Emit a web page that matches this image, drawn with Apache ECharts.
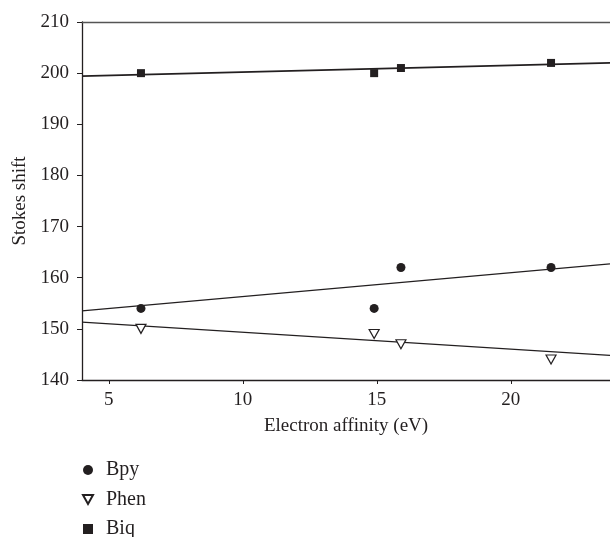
<!DOCTYPE html>
<html>
<head>
<meta charset="utf-8">
<script src="https://cdn.jsdelivr.net/npm/echarts@6/dist/echarts.min.js"></script>
<style>
  html, body { margin: 0; padding: 0; background: #fff; }
  #chart { width: 610px; height: 537px; }
</style>
</head>
<body>
<div id="chart"></div>
<script>
// electron affinity (eV) of each ligand
const affinity = [6.2, 14.9, 15.9, 21.5];
// stokes shift per series
const bpy = [154, 154, 162, 162];
const phen = [150, 149, 147, 144];
const biq = [200, 200, 201, 202];
// fitted lines, at the plot edges
const fitX = [4, 23.7];
const bpyFit = [153.5, 162.7];
const phenFit = [151.3, 144.8];
const biqFit = [199.4, 202.0];
const xTicks = [5, 10, 15, 20];

const ink = '#231f20';
const font = 'Liberation Serif';
const downTri = 'path://M0,0 L10,0 L5,9 Z';

const pairs = (xs, ys) => xs.map((x, i) => [x, ys[i]]);

const chart = echarts.init(document.getElementById('chart'));

const fitLine = (name, ys, w) => ({
  name: name,
  type: 'line',
  data: pairs(fitX, ys),
  symbol: 'none',
  silent: true,
  lineStyle: { color: ink, width: w },
  z: 1
});

chart.setOption({
  animation: false,
  textStyle: { fontFamily: font, color: ink },
  grid: { left: 82, top: 22, right: 0, bottom: 157 },
  legend: {
    data: ['Bpy', 'Phen', 'Biq'],
    orient: 'vertical',
    left: 82,
    top: 460,
    height: 90,
    padding: 0,
    itemWidth: 10,
    itemHeight: 10,
    itemGap: 9.5,
    textStyle: { fontFamily: font, fontSize: 20, lineHeight: 19, color: ink, padding: [0, 0, 0, 8] }
  },
  xAxis: [{
    type: 'value',
    min: 4,
    max: 23.7,
    name: 'Electron affinity (eV)',
    nameLocation: 'middle',
    nameGap: 37,
    nameTextStyle: { fontFamily: font, fontSize: 19, color: ink },
    axisLine: { lineStyle: { color: ink, width: 1.3 } },
    axisTick: { show: true, length: 4, customValues: xTicks, lineStyle: { color: ink } },
    axisLabel: { customValues: xTicks, margin: 11, fontFamily: font, fontSize: 19, color: ink },
    splitLine: { show: false }
  }, {
    type: 'value',
    position: 'top',
    min: 4,
    max: 23.7,
    axisLine: { show: true, lineStyle: { color: '#555', width: 1.3 } },
    axisTick: { show: false },
    axisLabel: { show: false },
    splitLine: { show: false }
  }],
  yAxis: {
    type: 'value',
    min: 140,
    max: 210,
    interval: 10,
    name: 'Stokes shift',
    nameLocation: 'middle',
    nameGap: 52,
    nameTextStyle: { fontFamily: font, fontSize: 19, color: ink },
    axisLine: { show: true, lineStyle: { color: ink, width: 1.3 } },
    axisTick: { show: true, length: 5, lineStyle: { color: ink } },
    axisLabel: { margin: 13, fontFamily: font, fontSize: 19, color: ink },
    splitLine: { show: false }
  },
  series: [
    fitLine('Bpy fit', bpyFit, 1.3),
    fitLine('Phen fit', phenFit, 1.3),
    fitLine('Biq fit', biqFit, 1.8),
    {
      name: 'Bpy',
      type: 'scatter',
      data: pairs(affinity, bpy),
      symbol: 'circle',
      symbolSize: 9,
      itemStyle: { color: ink, opacity: 1 },
      z: 3
    },
    {
      name: 'Phen',
      type: 'scatter',
      data: pairs(affinity, phen),
      symbol: downTri,
      symbolSize: [10, 9],
      itemStyle: { color: '#fff', borderColor: ink, borderWidth: 1.2, opacity: 1 },
      z: 3
    },
    {
      name: 'Biq',
      type: 'scatter',
      data: pairs(affinity, biq),
      symbol: 'rect',
      symbolSize: 8,
      itemStyle: { color: ink, opacity: 1 },
      z: 3
    }
  ]
});
</script>
</body>
</html>
